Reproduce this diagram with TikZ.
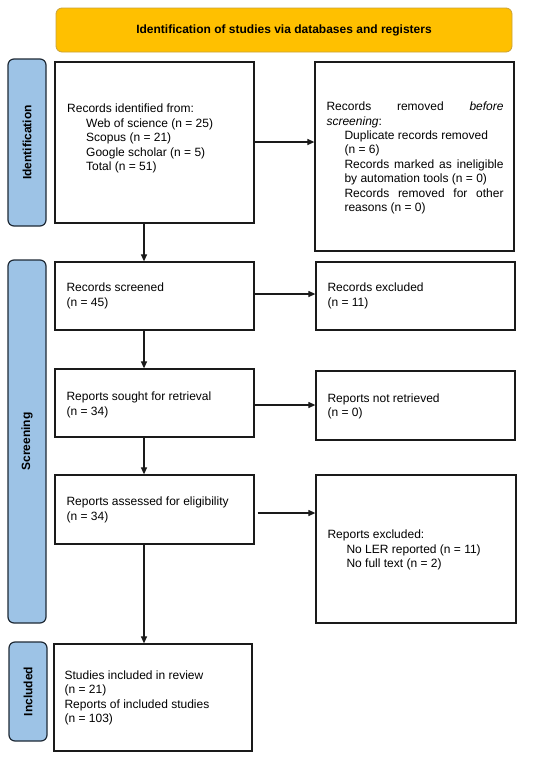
\documentclass[tikz,border=0pt]{standalone}
\usepackage{fontspec}
\setmainfont{Liberation Sans}
\usetikzlibrary{arrows.meta,calc}
\definecolor{bannerfill}{HTML}{FFC000}
\definecolor{bannerdraw}{HTML}{C9A23A}
\definecolor{barfill}{HTML}{9DC3E6}
\definecolor{bardraw}{HTML}{1F2A36}
\definecolor{boxdraw}{HTML}{1A1A1A}
\tikzset{
  box/.style={draw=boxdraw, line width=1.25pt, rectangle, inner sep=0pt},
  txt/.style={inner sep=0pt, align=left, font=\fontsize{12}{14.4}\selectfont},
  sidebar/.style={draw=bardraw, fill=barfill, line width=1.2pt, rounded corners=6pt, inner sep=0pt},
  sidelabel/.style={rotate=90, font=\fontsize{12}{14.4}\selectfont\bfseries, inner sep=0pt},
  arr/.style={draw=boxdraw, line width=1.2pt, -{Triangle[length=7pt,width=6pt]}},
}
\newcommand{\ind}{\hspace*{18pt}}
\begin{document}
\begin{tikzpicture}[x=1pt,y=-1pt]
\useasboundingbox (0,0) rectangle (550,761);
% banner
\node[draw=bannerdraw, fill=bannerfill, line width=0.8pt, rounded corners=6pt,
      minimum width=456pt, minimum height=44pt, inner sep=0pt,
      font=\fontsize{12}{14.4}\selectfont\bfseries] (banner) at (284,30)
      {Identification of studies via databases and registers};
% side bars
\node[sidebar, minimum width=38pt, minimum height=167pt] (idbar) at (27,142.5) {};
\node[sidelabel] (idlab) at (idbar.center) {Identification};
\node[sidebar, minimum width=38pt, minimum height=363pt] (scbar) at (27,441.5) {};
\node[sidelabel] (sclab) at (scbar.center) {Screening};
\node[sidebar, minimum width=38pt, minimum height=99pt] (inbar) at (28,691.5) {};
\node[sidelabel] (inlab) at (inbar.center) {Included};
% left boxes
\node[box, minimum width=199pt, minimum height=161pt] (b1) at (154.5,142.5) {};
\node[box, minimum width=199pt, minimum height=68pt] (b2) at (154.5,296) {};
\node[box, minimum width=199pt, minimum height=68pt] (b3) at (154.5,403) {};
\node[box, minimum width=199pt, minimum height=69pt] (b4) at (154.5,509.5) {};
\node[box, minimum width=198pt, minimum height=107pt] (b5) at (153,697.5) {};
% right boxes
\node[box, minimum width=199pt, minimum height=189pt] (r1) at (414.5,156.5) {};
\node[box, minimum width=199pt, minimum height=68pt] (r2) at (415.5,296) {};
\node[box, minimum width=199pt, minimum height=69pt] (r3) at (415.5,405.5) {};
\node[box, minimum width=200pt, minimum height=148pt] (r4) at (416,549) {};
% texts
\node[txt, anchor=north west] (t1) at (67,104)
  {Records identified from:\\
   \hspace*{19pt}Web of science (n = 25)\\
   \hspace*{19pt}Scopus (n = 21)\\
   \hspace*{19pt}Google scholar (n = 5)\\
   \hspace*{19pt}Total (n = 51)};
\node[txt, anchor=west] (tr1) at ($(r1.west)+(12,1.5)$)
  {\makebox[177pt][s]{Records removed \textit{before}}\\
   \textit{screening}:\\
   \ind Duplicate records removed\\
   \ind (n = 6)\\
   \ind\makebox[159pt][s]{Records marked as ineligible}\\
   \ind by automation tools (n = 0)\\
   \ind\makebox[159pt][s]{Records removed for other}\\
   \ind reasons (n = 0)};
\node[txt, anchor=west] (t2) at ($(b2.west)+(12,0)$) {Records screened\\(n = 45)};
\node[txt, anchor=west] (tr2) at ($(r2.west)+(12,0)$) {Records excluded\\(n = 11)};
\node[txt, anchor=west] (t3) at ($(b3.west)+(12,2)$) {Reports sought for retrieval\\(n = 34)};
\node[txt, anchor=west] (tr3) at ($(r3.west)+(12,1)$) {Reports not retrieved\\(n = 0)};
\node[txt, anchor=west] (t4) at ($(b4.west)+(12,0.5)$) {Reports assessed for eligibility\\(n = 34)};
\node[txt, anchor=west] (tr4) at ($(r4.west)+(12,1)$)
  {Reports excluded:\\
   \hspace*{19pt}No LER reported (n = 11)\\
   \hspace*{19pt}No full text (n = 2)};
\node[txt, anchor=west] (t5) at ($(b5.west)+(11,0.5)$)
  {Studies included in review\\(n = 21)\\Reports of included studies\\(n = 103)};
% arrows
\coordinate (ax) at (144,0);
\draw[arr] ($(b1.east)+(0,-0.5)$) -- ($(r1.west |- b1.east)+(0,-0.5)$);
\draw[arr] (b1.south -| ax) -- (b2.north -| ax);
\draw[arr] ($(b2.east)+(0,-2)$) -- ($(r2.west |- b2.east)+(0,-2)$);
\draw[arr] (b2.south -| ax) -- (b3.north -| ax);
\draw[arr] ($(b3.east)+(0,2)$) -- ($(r3.west |- b3.east)+(0,2)$);
\draw[arr] (b3.south -| ax) -- (b4.north -| ax);
\draw[arr] ($(b4.east)+(3,3.5)$) -- ($(r4.west |- b4.east)+(0,3.5)$);
\draw[arr] (b4.south -| ax) -- (b5.north -| ax);
\end{tikzpicture}
\end{document}
